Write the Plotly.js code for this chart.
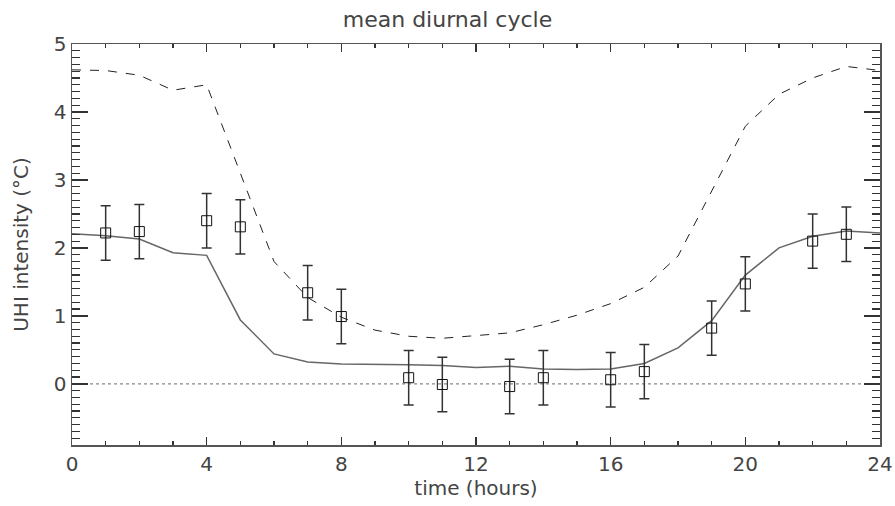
<!DOCTYPE html>
<html>
<head>
<meta charset="utf-8">
<script src="https://cdn.plot.ly/plotly-3.0.1.min.js"></script>
<style>html,body{margin:0;padding:0;background:#fff;}#chart{width:895px;height:506px;}</style>
</head>
<body>
<div id="chart"></div>
<script>
// Hours of the day for the model curves
const hours = [0,1,2,3,4,5,6,7,8,9,10,11,12,13,14,15,16,17,18,19,20,21,22,23,24];
// Solid curve (mean UHI intensity, model)
const meanModel = [2.21,2.18,2.13,1.93,1.89,0.94,0.44,0.32,0.29,0.29,0.28,0.27,0.24,0.26,0.22,0.21,0.22,0.30,0.53,0.93,1.60,2.00,2.17,2.25,2.22];
// Dashed curve (upper envelope)
const upperModel = [4.62,4.61,4.54,4.32,4.40,3.10,1.80,1.27,0.98,0.79,0.70,0.67,0.71,0.75,0.87,1.01,1.18,1.42,1.88,2.83,3.79,4.26,4.50,4.67,4.61];
// Observations (squares with error bars)
const obsHours = [1,2,4,5,7,8,10,11,13,14,16,17,19,20,22,23];
const obsValues = [2.22,2.24,2.40,2.31,1.34,0.99,0.09,-0.01,-0.04,0.09,0.06,0.18,0.82,1.47,2.10,2.20];
const obsError = [0.4,0.4,0.4,0.4,0.4,0.4,0.4,0.4,0.4,0.4,0.4,0.4,0.4,0.4,0.4,0.4];
// Zero reference line
const zeroX = [0,24];
const zeroY = [0,0];

const FONT = "DejaVu Sans, sans-serif";
const TXT = "#444";

const traces = [
  {x: zeroX, y: zeroY, mode:'lines', line:{color:'#888', width:1.2, dash:'dot'}, hoverinfo:'skip'},
  {x: hours, y: upperModel, mode:'lines', line:{color:'#222', width:1, dash:'dash'}},
  {x: hours, y: meanModel, mode:'lines', line:{color:'#666', width:1.5}},
  {x: obsHours, y: obsValues, mode:'markers',
   marker:{symbol:'square-open', size:10, color:'#111', line:{width:1, color:'#111'}},
   error_y:{type:'data', array: obsError, visible:true, color:'#333', thickness:1.5, width:5}}
];

const layout = {
  width:895, height:506,
  margin:{l:72, r:15, t:44, b:61},
  paper_bgcolor:'#fff', plot_bgcolor:'#fff',
  showlegend:false,
  font:{family:FONT, color:TXT, size:20},
  title:{text:'mean diurnal cycle', font:{family:FONT, size:22, color:TXT}, x:0.5, xanchor:'center', y:0.962, yanchor:'middle'},
  xaxis:{
    range:[0,24], tickvals:[0,4,8,12,16,20,24], showgrid:false, zeroline:false,
    showline:true, linecolor:'#555', linewidth:1.5, mirror:'allticks',
    ticks:'inside', ticklen:8, tickwidth:1.5, tickcolor:'#333',
    minor:{dtick:1, ticks:'inside', ticklen:4, tickwidth:1.2, tickcolor:'#333', showgrid:false},
    tickfont:{size:20, color:TXT, family:FONT},
    title:{text:'time (hours)', font:{size:20, color:TXT, family:FONT}, standoff:3},
    automargin:false
  },
  yaxis:{
    range:[-0.9,5], tickvals:[0,1,2,3,4,5], showgrid:false, zeroline:false,
    showline:true, linecolor:'#555', linewidth:1.5, mirror:'allticks',
    ticks:'inside', ticklen:16, tickwidth:1.5, tickcolor:'#333',
    minor:{dtick:0.1, ticks:'inside', ticklen:8, tickwidth:1.2, tickcolor:'#333', showgrid:false},
    tickfont:{size:20, color:TXT, family:FONT},
    title:{text:'UHI intensity (°C)', font:{size:20, color:TXT, family:FONT}, standoff:20},
    automargin:false
  }
};

Plotly.newPlot('chart', traces, layout, {displayModeBar:false, staticPlot:true});
</script>
</body>
</html>
